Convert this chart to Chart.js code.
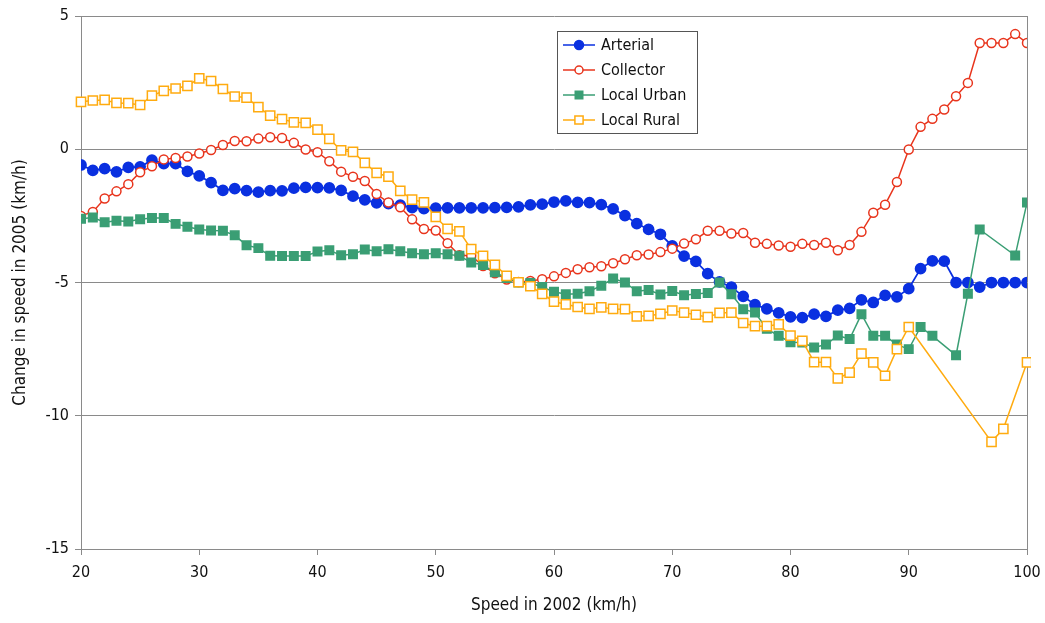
<!DOCTYPE html>
<html>
<head>
<meta charset="utf-8">
<script src="https://cdn.jsdelivr.net/npm/chart.js@4.4.1/dist/chart.umd.min.js"></script>
<style>
html, body { margin: 0; padding: 0; background: #fff; }
#wrap { width: 1045px; height: 623px; position: relative; }
</style>
</head>
<body>
<div id="wrap"><canvas id="speedChart"></canvas></div>
<script>
// speed in 2002 (km/h), one point per km/h
const speedsAll = [];
for (let s = 20; s <= 100; s++) speedsAll.push(s);

const arterial = [
  -0.59, -0.79, -0.73, -0.85, -0.68, -0.66, -0.41, -0.54, -0.54, -0.83,
  -1.00, -1.25, -1.54, -1.48, -1.55, -1.61, -1.55, -1.56, -1.46, -1.43,
  -1.44, -1.45, -1.54, -1.76, -1.90, -2.01, -2.04, -2.10, -2.19, -2.23,
  -2.21, -2.20, -2.20, -2.20, -2.20, -2.19, -2.18, -2.16, -2.09, -2.06,
  -1.98, -1.94, -1.99, -2.00, -2.08, -2.24, -2.49, -2.79, -3.01, -3.19,
  -3.63, -4.01, -4.21, -4.67, -4.98, -5.17, -5.52, -5.83, -5.99, -6.14,
  -6.29, -6.32, -6.19, -6.27, -6.04, -5.97, -5.65, -5.75, -5.48, -5.54,
  -5.23, -4.48, -4.19, -4.20, -5.00, -5.00, -5.17, -5.00, -5.00, -5.00,
  -5.00
];

const collector = [
  -2.50, -2.35, -1.85, -1.58, -1.31, -0.86, -0.64, -0.38, -0.33, -0.27,
  -0.16, -0.03, 0.16, 0.31, 0.30, 0.40, 0.45, 0.42, 0.24, -0.01,
  -0.11, -0.45, -0.84, -1.03, -1.19, -1.68, -2.00, -2.18, -2.63, -2.99,
  -3.05, -3.53, -3.98, -4.00, -4.38, -4.65, -4.89, -4.98, -4.94, -4.88,
  -4.77, -4.64, -4.50, -4.43, -4.39, -4.28, -4.13, -3.98, -3.95, -3.86,
  -3.73, -3.54, -3.38, -3.06, -3.06, -3.16, -3.14, -3.51, -3.55, -3.61,
  -3.66, -3.55, -3.59, -3.51, -3.79, -3.59, -3.10, -2.38, -2.08, -1.23,
  -0.01, 0.84, 1.14, 1.49, 1.99, 2.49, 3.99, 3.99, 3.99, 4.32,
  3.99
];

const urbanSpeeds = [
  20, 21, 22, 23, 24, 25, 26, 27, 28, 29, 30, 31, 32, 33, 34, 35, 36, 37, 38, 39,
  40, 41, 42, 43, 44, 45, 46, 47, 48, 49, 50, 51, 52, 53, 54, 55, 56, 57, 58, 59,
  60, 61, 62, 63, 64, 65, 66, 67, 68, 69, 70, 71, 72, 73, 74, 75, 76, 77, 78, 79,
  80, 81, 82, 83, 84, 85, 86, 87, 88, 89, 90, 91, 92, 94, 95, 96, 99, 100
];
const localUrban = [
  -2.61, -2.56, -2.74, -2.68, -2.71, -2.63, -2.58, -2.58, -2.80, -2.91,
  -3.01, -3.05, -3.06, -3.23, -3.60, -3.71, -4.00, -4.01, -4.01, -4.01,
  -3.84, -3.79, -3.98, -3.94, -3.76, -3.83, -3.75, -3.83, -3.90, -3.94,
  -3.90, -3.94, -4.00, -4.25, -4.34, -4.62, -4.83, -5.00, -5.02, -5.17,
  -5.35, -5.44, -5.42, -5.33, -5.12, -4.85, -5.00, -5.33, -5.28, -5.45,
  -5.32, -5.48, -5.43, -5.39, -5.00, -5.44, -6.00, -6.13, -6.74, -7.00,
  -7.24, -7.25, -7.44, -7.33, -6.99, -7.12, -6.19, -7.00, -7.00, -7.33,
  -7.50, -6.67, -7.00, -7.73, -5.42, -3.01, -3.99, -2.00
];

const ruralSpeeds = [
  20, 21, 22, 23, 24, 25, 26, 27, 28, 29, 30, 31, 32, 33, 34, 35, 36, 37, 38, 39,
  40, 41, 42, 43, 44, 45, 46, 47, 48, 49, 50, 51, 52, 53, 54, 55, 56, 57, 58, 59,
  60, 61, 62, 63, 64, 65, 66, 67, 68, 69, 70, 71, 72, 73, 74, 75, 76, 77, 78, 79,
  80, 81, 82, 83, 84, 85, 86, 87, 88, 89, 90, 97, 98, 100, 101
];
const localRural = [
  1.78, 1.83, 1.85, 1.74, 1.73, 1.66, 2.01, 2.19, 2.28, 2.38,
  2.66, 2.56, 2.26, 1.98, 1.94, 1.58, 1.26, 1.13, 1.01, 0.99,
  0.74, 0.39, -0.04, -0.10, -0.51, -0.89, -1.03, -1.56, -1.89, -1.99,
  -2.54, -2.99, -3.08, -3.75, -4.00, -4.34, -4.75, -4.99, -5.14, -5.43,
  -5.72, -5.82, -5.92, -5.99, -5.93, -5.99, -6.00, -6.27, -6.25, -6.18,
  -6.05, -6.13, -6.21, -6.30, -6.14, -6.13, -6.52, -6.64, -6.64, -6.57,
  -6.99, -7.19, -7.99, -7.99, -8.60, -8.38, -7.67, -8.00, -8.50, -7.50,
  -6.67, -10.98, -10.49, -8.00, -1.00
];

const xTicks = [20, 30, 40, 50, 60, 70, 80, 90, 100];
const yTicks = [5, 0, -5, -10, -15];

const FONT = "'Liberation Sans Narrow', 'DejaVu Sans Condensed', 'Arial Narrow', sans-serif";
const GRID = '#8a8a8a';
const BLUE = '#0a30e0';
const RED = '#e8341c';
const GREEN = '#3a9e74';
const ORANGE = '#ffab0f';

function pts(xs, ys) {
  return xs.map((x, i) => ({ x: x, y: ys[i] }));
}

// legend drawn inside the plot, boxed
const boxLegend = {
  id: 'boxLegend',
  afterDraw(chart) {
    const ctx = chart.ctx;
    const left = 557, top = 31, w = 140, h = 102;
    ctx.save();
    ctx.fillStyle = '#fff';
    ctx.fillRect(left, top, w, h);
    ctx.strokeStyle = '#555';
    ctx.lineWidth = 1;
    ctx.strokeRect(left + 0.5, top + 0.5, w, h);
    ctx.font = '16px ' + FONT;
    ctx.textBaseline = 'middle';
    chart.data.datasets.forEach((ds, i) => {
      const y = top + 14 + i * 25;
      ctx.strokeStyle = ds.borderColor;
      ctx.lineWidth = 1.5;
      ctx.beginPath();
      ctx.moveTo(left + 6, y);
      ctx.lineTo(left + 38, y);
      ctx.stroke();
      ctx.fillStyle = ds.pointBackgroundColor;
      ctx.beginPath();
      if (ds.pointStyle === 'circle') {
        ctx.arc(left + 22, y, ds.pointRadius - 0.5, 0, Math.PI * 2);
      } else {
        const s = ds.pointRadius * Math.SQRT1_2 - 0.5;
        ctx.rect(left + 22 - s, y - s, s * 2, s * 2);
      }
      ctx.fill();
      ctx.stroke();
      ctx.fillStyle = '#111';
      ctx.fillText(ds.label, left + 44, y + 1);
    });
    ctx.restore();
  }
};

new Chart(document.getElementById('speedChart'), {
  type: 'line',
  data: {
    datasets: [
      {
        label: 'Arterial',
        data: pts(speedsAll, arterial),
        borderColor: BLUE,
        backgroundColor: BLUE,
        pointBackgroundColor: BLUE,
        pointBorderColor: BLUE,
        pointStyle: 'circle',
        pointRadius: 5,
        borderWidth: 1.75,
        order: 4
      },
      {
        label: 'Collector',
        data: pts(speedsAll, collector),
        borderColor: RED,
        backgroundColor: '#fff',
        pointBackgroundColor: '#fff',
        pointBorderColor: RED,
        pointBorderWidth: 1.5,
        pointStyle: 'circle',
        pointRadius: 4.5,
        borderWidth: 1.5,
        order: 3
      },
      {
        label: 'Local Urban',
        data: pts(urbanSpeeds, localUrban),
        borderColor: GREEN,
        backgroundColor: GREEN,
        pointBackgroundColor: GREEN,
        pointBorderColor: GREEN,
        pointStyle: 'rect',
        pointRadius: 6,
        borderWidth: 1.5,
        order: 2
      },
      {
        label: 'Local Rural',
        data: pts(ruralSpeeds, localRural),
        borderColor: ORANGE,
        backgroundColor: '#fff',
        pointBackgroundColor: '#fff',
        pointBorderColor: ORANGE,
        pointBorderWidth: 1.5,
        pointStyle: 'rect',
        pointRadius: 6.5,
        borderWidth: 1.5,
        clip: { left: 8, top: 8, right: 4, bottom: 8 },
        order: 1
      }
    ]
  },
  options: {
    responsive: true,
    maintainAspectRatio: false,
    animation: false,
    layout: { padding: { left: 0, right: 18, top: 16, bottom: 0 } },
    plugins: {
      legend: { display: false },
      tooltip: { enabled: false }
    },
    elements: { line: { tension: 0 } },
    scales: {
      x: {
        type: 'linear',
        min: 20,
        max: 100,
        afterBuildTicks: (scale) => { scale.ticks = xTicks.map(v => ({ value: v })); },
        afterFit: (scale) => {
          scale.height = 74;
          scale.paddingLeft = 0;
          scale.paddingRight = 0;
        },
        border: { color: GRID, width: 1 },
        grid: {
          color: (c) => (c.tick && c.tick.value === 100 ? GRID : 'rgba(0,0,0,0)'),
          tickColor: GRID,
          tickLength: 6,
          lineWidth: 1
        },
        ticks: { color: '#111', font: { family: FONT, size: 16 }, padding: 8, maxRotation: 0 },
        title: {
          display: true,
          text: 'Speed in 2002 (km/h)',
          color: '#111',
          font: { family: FONT, size: 17 },
          padding: { top: 0, bottom: 7 }
        }
      },
      y: {
        min: -15,
        max: 5,
        afterBuildTicks: (scale) => { scale.ticks = yTicks.map(v => ({ value: v })); },
        afterFit: (scale) => { scale.width = 81; },
        border: { color: GRID, width: 1 },
        grid: { color: GRID, tickColor: GRID, tickLength: 6, lineWidth: 1 },
        ticks: { color: '#111', font: { family: FONT, size: 16 }, padding: 6 },
        title: {
          display: true,
          text: 'Change in speed in 2005 (km/h)',
          color: '#111',
          font: { family: FONT, size: 17 },
          padding: { top: 10, bottom: 0 }
        }
      }
    }
  },
  plugins: [boxLegend]
});
</script>
</body>
</html>
